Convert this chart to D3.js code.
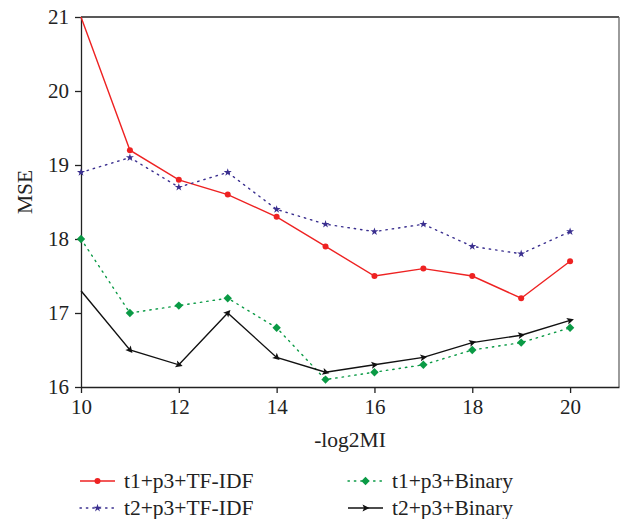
<!doctype html>
<html>
<head>
<meta charset="utf-8">
<title>MSE vs -log2MI</title>
<style>
    body { margin: 0; background: #fff; }
    svg { display: block; font-family: "Liberation Serif", "DejaVu Serif", serif; }
    .axis text { font-size: 21px; fill: #222; font-family: "Liberation Serif", "DejaVu Serif", serif; }
    .axis path, .axis line { stroke: #222; stroke-width: 1.3px; }
    .line { fill: none; stroke-width: 1.4px; }
    .label { font-size: 21.5px; fill: #222; font-family: "Liberation Serif", "DejaVu Serif", serif; }
</style>
</head>
<body>
<svg id="plot" width="630" height="519"></svg>
<script src="https://cdn.jsdelivr.net/npm/d3@7/dist/d3.min.js"></script>
<script>
// data
const xs = [10, 11, 12, 13, 14, 15, 16, 17, 18, 19, 20];
const t1TfIdf = [21.0, 19.2, 18.8, 18.6, 18.3, 17.9, 17.5, 17.6, 17.5, 17.2, 17.7];
const t2TfIdf = [18.9, 19.1, 18.7, 18.9, 18.4, 18.2, 18.1, 18.2, 17.9, 17.8, 18.1];
const t1Binary = [18.0, 17.0, 17.1, 17.2, 16.8, 16.1, 16.2, 16.3, 16.5, 16.6, 16.8];
const t2Binary = [17.3, 16.5, 16.3, 17.0, 16.4, 16.2, 16.3, 16.4, 16.6, 16.7, 16.9];
const xTicks = [10, 12, 14, 16, 18, 20];
const yTicks = [16, 17, 18, 19, 20, 21];

const series = [
    {name: "t1+p3+TF-IDF", values: t1TfIdf, color: "#ee2222", dash: null, marker: "circle"},
    {name: "t2+p3+TF-IDF", values: t2TfIdf, color: "#3a2f8f", dash: "1.4 5", marker: "star"},
    {name: "t1+p3+Binary", values: t1Binary, color: "#0a9a45", dash: "1.4 5", marker: "diamond"},
    {name: "t2+p3+Binary", values: t2Binary, color: "#111111", dash: null, marker: "arrow"}
];

let svg = d3.select("svg"),
    margin = {top: 17, right: 11, bottom: 132, left: 81},
    width = +svg.attr("width") - margin.left - margin.right,
    height = +svg.attr("height") - margin.top - margin.bottom,
    g = svg.append("g").attr("transform", "translate(" + margin.left + "," + margin.top + ")");

let x = d3.scaleLinear().domain([10, 21]).range([0, width]);
let y = d3.scaleLinear().domain([16, 21]).range([height, 0]);

// frame: top black, right grey
g.append("line").attr("x1", 0).attr("x2", width).attr("y1", 0).attr("y2", 0)
    .attr("stroke", "#222").attr("stroke-width", 1.3);
g.append("line").attr("x1", width).attr("x2", width).attr("y1", 0).attr("y2", height)
    .attr("stroke", "#666").attr("stroke-width", 1.3);

g.append("g")
    .attr("class", "axis axis--x")
    .attr("transform", "translate(0," + height + ")")
    .call(d3.axisBottom(x).tickValues(xTicks).tickFormat(d3.format("d"))
        .tickSize(6).tickPadding(6).tickSizeOuter(0));

g.append("g")
    .attr("class", "axis axis--y")
    .call(d3.axisLeft(y).tickValues(yTicks).tickFormat(d3.format("d"))
        .tickSize(6).tickPadding(6).tickSizeOuter(0));

svg.append("text")
    .attr("class", "label")
    .attr("transform", "translate(32," + (margin.top + height / 2 - 10) + ") rotate(-90)")
    .attr("text-anchor", "middle")
    .text("MSE");

svg.append("text")
    .attr("class", "label")
    .attr("x", 350).attr("y", 447)
    .attr("text-anchor", "middle")
    .text("-log2MI");

let line = d3.line()
    .x(function(d, i) { return x(xs[i]); })
    .y(function(d) { return y(d); });

function drawMarker(sel, type, color, px, py, angle) {
    if (type === "circle") {
        sel.append("circle").attr("cx", px).attr("cy", py).attr("r", 3).attr("fill", color);
    } else if (type === "star") {
        sel.append("path").attr("d", d3.symbol(d3.symbolStar, 20)())
            .attr("transform", "translate(" + px + "," + py + ")").attr("fill", color);
    } else if (type === "diamond") {
        sel.append("path").attr("d", "M0,-4.2L4.2,0L0,4.2L-4.2,0Z")
            .attr("transform", "translate(" + px + "," + py + ")").attr("fill", color);
    } else {
        sel.append("path").attr("d", "M4,0L-3,-3.5L-1.5,0L-3,3.5Z")
            .attr("transform", "translate(" + px + "," + py + ") rotate(" + angle + ")").attr("fill", color);
    }
}

for (const s of series) {
    g.append("path")
        .datum(s.values)
        .attr("class", "line")
        .attr("stroke", s.color)
        .attr("stroke-dasharray", s.dash)
        .attr("stroke-linecap", s.dash ? "round" : "butt")
        .attr("d", line);
    let mg = g.append("g");
    s.values.forEach(function(v, i) {
        let px = x(xs[i]), py = y(v);
        let angle = 0;
        if (i > 0) {
            angle = Math.atan2(py - y(s.values[i - 1]), px - x(xs[i - 1])) * 180 / Math.PI;
        }
        if (i === 0 && (s.marker === "arrow" || s.marker === "circle")) return;
        drawMarker(mg, s.marker, s.color, px, py, angle);
    });
}

// legend
const legendPos = [[80, 481], [80, 508], [348, 481], [348, 508]];
series.forEach(function(s, i) {
    let lx = legendPos[i][0], ly = legendPos[i][1];
    let lg = svg.append("g");
    let len = 35;
    lg.append("line").attr("x1", lx).attr("x2", lx + len).attr("y1", ly).attr("y2", ly)
        .attr("stroke", s.color).attr("stroke-width", 1.4)
        .attr("stroke-dasharray", s.dash).attr("stroke-linecap", s.dash ? "round" : "butt");
    drawMarker(lg, s.marker, s.color, lx + len / 2, ly, 0);
    lg.append("text")
        .attr("class", "label")
        .attr("x", lx + 44).attr("y", ly + 7)
        .text(s.name);
});
</script>
</body>
</html>
